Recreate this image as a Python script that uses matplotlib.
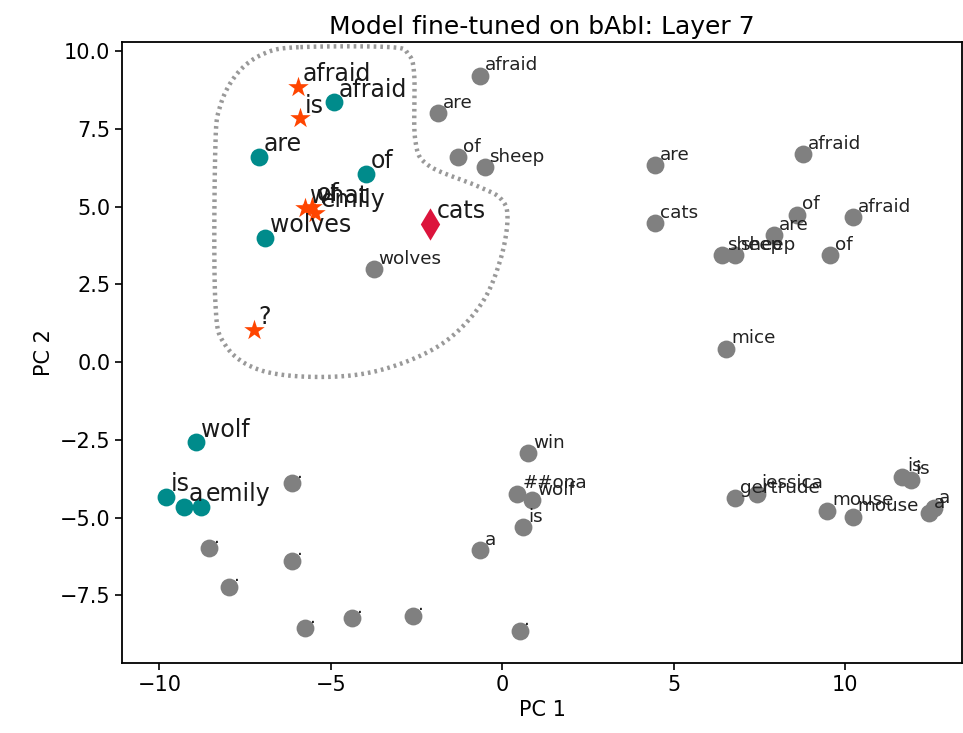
import numpy as np
import matplotlib
matplotlib.use("Agg")
import matplotlib.pyplot as plt

# ---- data ----
gray_words = ["afraid", "are", "of", "sheep", "wolves",
              "are", "cats", "afraid", "of", "afraid", "are", "sheep", "sheep", "of", "mice",
              "win", "##ona", "wolf", "is", "a", ".",
              ".", ".", ".", ".", ".", ".", ".",
              "gertrude", "jessica", "mouse", "mouse", "is", "is", "a", "a"]
gray_x = [-0.64, -1.87, -1.28, -0.52, -3.75,
          4.46, 4.46, 8.75, 8.6, 10.23, 7.93, 6.41, 6.79, 9.56, 6.53,
          0.76, 0.44, 0.87, 0.6, -0.64, 0.5,
          -6.13, -8.54, -6.13, -7.98, -5.74, -4.38, -2.61,
          6.79, 7.41, 9.47, 10.22, 11.65, 11.9, 12.43, 12.57]
gray_y = [9.2, 8.0, 6.59, 6.27, 2.99,
          6.33, 4.47, 6.69, 4.73, 4.66, 4.08, 3.44, 3.44, 3.44, 0.42,
          -2.93, -4.24, -4.44, -5.31, -6.05, -8.65,
          -3.9, -5.99, -6.39, -7.22, -8.56, -8.24, -8.17,
          -4.38, -4.24, -4.79, -4.97, -3.69, -3.79, -4.87, -4.7]

teal_words = ["afraid", "are", "of", "wolves", "wolf", "is", "a", "emily"]
teal_x = [-4.92, -7.1, -3.97, -6.93, -8.92, -9.8, -9.29, -8.8]
teal_y = [8.35, 6.6, 6.05, 4.0, -2.58, -4.33, -4.65, -4.65]

star_words = ["afraid", "is", "what", "of", "emily", "?"]
star_x = [-5.96, -5.89, -5.75, -5.55, -5.45, -7.25]
star_y = [8.85, 7.84, 4.95, 5.0, 4.8, 1.03]

answer_words = ["cats"]
answer_x = [-2.12]
answer_y = [4.44]

# outline around the question cluster (data coordinates)
outline_x = [-5.89, -3.27, -2.74, -2.57, -2.54, -2.16, -0.79, -0.06, 0.15, -0.06,
             -0.64, -1.81, -3.56, -5.31, -7.06, -8.08, -8.37, -8.37, -8.22, -7.70, -6.91]
outline_y = [10.13, 10.13, 9.9, 9.23, 7.14, 6.33, 5.69, 5.27, 4.63, 3.28,
             1.83, 0.55, -0.26, -0.48, -0.26, 0.55, 1.99, 6.82, 8.26, 9.32, 9.94]


def catmull_rom_closed(xs, ys, n=20):
    P = np.column_stack([xs, ys])
    m = len(P)
    out = []
    for i in range(m):
        p0, p1, p2, p3 = P[(i - 1) % m], P[i], P[(i + 1) % m], P[(i + 2) % m]
        t = np.linspace(0, 1, n, endpoint=False)[:, None]
        pts = 0.5 * ((2 * p1) + (-p0 + p2) * t + (2 * p0 - 5 * p1 + 4 * p2 - p3) * t ** 2
                     + (-p0 + 3 * p1 - 3 * p2 + p3) * t ** 3)
        out.append(pts)
    out = np.vstack(out)
    out = np.vstack([out, out[:1]])
    return out[:, 0], out[:, 1]


fig = plt.figure(figsize=(9.63, 7.33), dpi=100)
ax = fig.add_axes([0.127, 0.0955, 0.872, 0.847])

cx, cy = catmull_rom_closed(outline_x, outline_y)
ax.plot(cx, cy, linestyle=(0, (0.6, 0.9)), color="#999999", lw=3.2, zorder=1)

ax.scatter(gray_x, gray_y, s=165, color="#808080", zorder=2, linewidths=0)
for w, x, y in zip(gray_words, gray_x, gray_y):
    ax.annotate(w, (x, y), xytext=(3.5, 4), textcoords="offset points",
                fontsize=13.2, color="#222222", va="baseline", ha="left", zorder=5)

ax.scatter(teal_x, teal_y, s=165, color="#008b8b", zorder=3, linewidths=0)
for w, x, y in zip(teal_words, teal_x, teal_y):
    ax.annotate(w, (x, y), xytext=(3.5, 4), textcoords="offset points",
                fontsize=17, color="#1a1a1a", va="baseline", ha="left", zorder=5)

ax.scatter(star_x, star_y, s=240, marker="*", color="#ff4500", zorder=4, linewidths=0)
for w, x, y in zip(star_words, star_x, star_y):
    ax.annotate(w, (x, y), xytext=(3.5, 4), textcoords="offset points",
                fontsize=17, color="#1a1a1a", va="baseline", ha="left", zorder=5)

ax.scatter(answer_x, answer_y, s=270, marker="d", color="#dc143c", zorder=4, linewidths=0)
for w, x, y in zip(answer_words, answer_x, answer_y):
    ax.annotate(w, (x, y), xytext=(5, 4), textcoords="offset points",
                fontsize=17, color="#1a1a1a", va="baseline", ha="left", zorder=5)

ax.set_xlim(-11.08, 13.4)
ax.set_ylim(-9.68, 10.29)
ax.set_xticks([-10, -5, 0, 5, 10])
ax.set_yticks([-7.5, -5.0, -2.5, 0.0, 2.5, 5.0, 7.5, 10.0])
ax.tick_params(labelsize=15, length=5, width=1.2)
for sp in ax.spines.values():
    sp.set_linewidth(1.3)
ax.set_xlabel("PC 1", fontsize=15)
ax.set_ylabel("PC 2", fontsize=15)
ax.set_title("Model fine-tuned on bAbI: Layer 7", fontsize=18)

fig.savefig("out.png", dpi=100)
